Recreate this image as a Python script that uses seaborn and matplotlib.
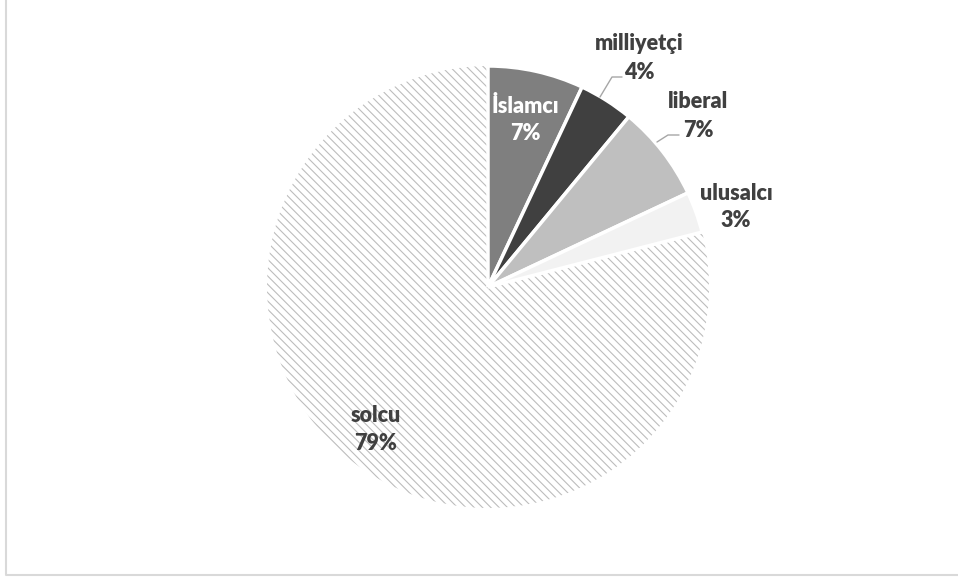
import matplotlib
matplotlib.use("Agg")
import matplotlib.pyplot as plt
import seaborn as sns

# data
labels = ["İslamcı", "milliyetçi", "liberal", "ulusalcı", "solcu"]
shares = [7, 4, 7, 3, 79]
colors = ["#7f7f7f", "#404040", "#bfbfbf", "#f2f2f2", "#ffffff"]

sns.set_theme(style="white")
plt.rcParams["font.family"] = ["Lato", "DejaVu Sans"]
plt.rcParams["hatch.linewidth"] = 0.8

W, H = 958, 579
fig = plt.figure(figsize=(W / 100, H / 100), dpi=100)
ax = fig.add_axes([0, 0, 1, 1])

# pixel y (top-down) -> data y
def py(y):
    return H - y

wedges, _ = ax.pie(shares, colors=colors, startangle=90, counterclock=False,
                   center=(488, py(287)), radius=221, frame=True,
                   wedgeprops=dict(edgecolor="white", linewidth=2.5))
ax.set_xlim(0, W)
ax.set_ylim(0, H)
ax.set_aspect("equal")
ax.axis("off")

# solcu slice: hatched, no white outline
solcu = wedges[-1]
solcu.set_edgecolor("#bdbdbd")
solcu.set_linewidth(0)
solcu.set_hatch("\\\\\\\\")
solcu.set_zorder(0.5)

text_kw = dict(fontsize=15.5, fontweight="heavy", ha="center", va="baseline")
dark = "#404040"

# label name / percentage placement (pixel coords)
label_pos = {
    "İslamcı": (525, 113, 140, "white"),
    "milliyetçi": (639, 50, 79, dark),
    "liberal": (698, 108, 137, dark),
    "ulusalcı": (736, 200, 227, dark),
    "solcu": (376, 422, 450, dark),
}
for name, val in zip(labels, shares):
    x, y1, y2, c = label_pos[name]
    ax.text(x, py(y1), name, color=c, **text_kw)
    ax.text(x, py(y2), f"{val}%", color=c, **text_kw)

# leader lines
for pts in ([(600, 97), (612, 77), (622, 77)],
            [(657, 142), (668, 135), (679, 135)]):
    ax.plot([p[0] for p in pts], [py(p[1]) for p in pts],
            color="#a6a6a6", linewidth=1)

# chart frame (left and bottom edges visible)
ax.plot([6.5, 6.5, W + 5], [py(-5), py(575), py(575)],
        color="#d9d9d9", linewidth=1.5, solid_capstyle="butt")

fig.savefig("out.png", dpi=100)
